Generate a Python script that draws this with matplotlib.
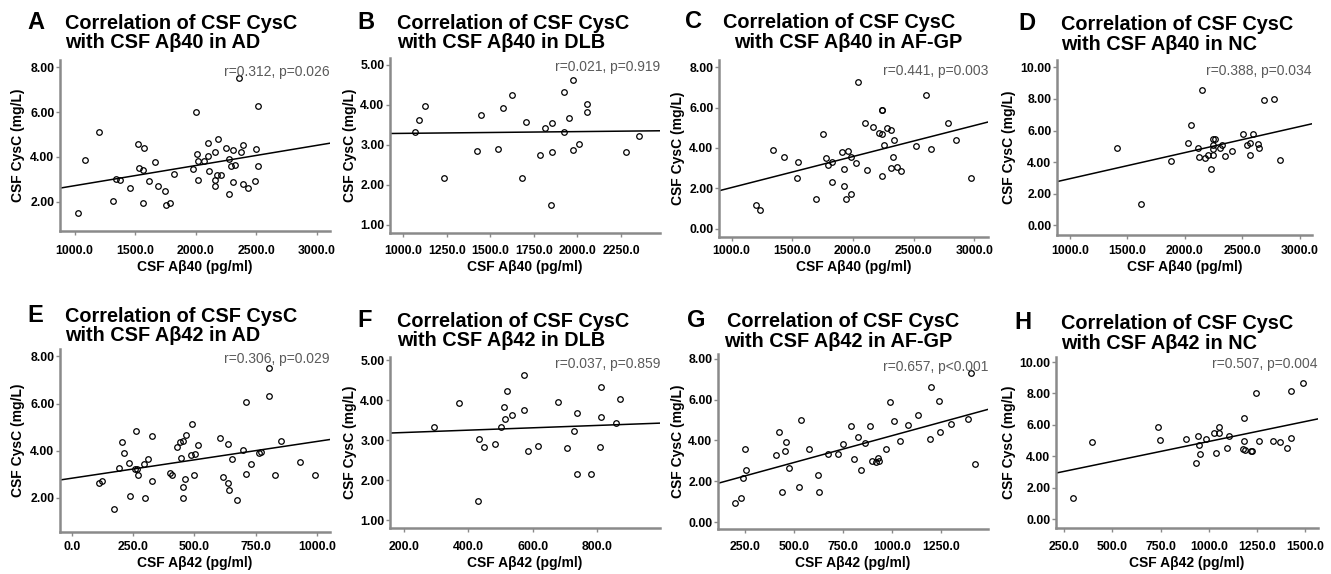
import numpy as np
import matplotlib.pyplot as plt

plt.rcParams['font.family'] = ['Liberation Sans', 'DejaVu Sans']

# values (CSF Abeta in pg/ml, CSF CysC in mg/L)
a_x = [1025, 1088, 1200, 1318, 1337, 1370, 1455, 1521, 1535, 1562, 1573, 1565, 1617, 1667, 1686,
       1749, 1757, 1784, 1820, 1974, 2004, 2009, 2015, 2020, 2067, 2097, 2097, 2111, 2155, 2185,
       2155, 2160, 2174, 2204, 2245, 2270, 2289, 2308, 2319, 2306, 2273, 2358, 2372, 2391, 2393,
       2429, 2495, 2492, 2511, 2514]
a_y = [1.50, 3.85, 5.11, 2.01, 3.03, 2.99, 2.60, 4.59, 3.51, 3.42, 4.41, 1.95, 2.91, 3.78, 2.70,
       2.46, 1.86, 1.95, 3.24, 3.46, 6.02, 4.12, 2.96, 3.82, 3.82, 4.62, 4.02, 3.39, 4.20, 4.78,
       2.96, 2.70, 3.18, 3.18, 4.39, 3.90, 3.60, 4.33, 3.66, 2.88, 2.33, 7.51, 4.23, 4.53, 2.78,
       2.60, 4.35, 2.94, 6.29, 3.61]

b_x = [1065, 1092, 1123, 1234, 1425, 1446, 1542, 1570, 1622, 1704, 1683, 1785, 1812, 1854, 1856,
       1848, 1923, 1923, 1950, 1976, 1972, 2007, 2053, 2053, 2279, 2351]
b_y = [3.33, 3.63, 3.97, 2.17, 2.84, 3.75, 2.90, 3.93, 4.24, 3.57, 2.17, 2.75, 3.43, 3.54, 2.83,
       1.49, 4.33, 3.33, 3.68, 4.63, 2.87, 3.03, 4.03, 3.83, 2.83, 3.23]

c_x = [1203, 1233, 1341, 1429, 1544, 1538, 1692, 1755, 1775, 1797, 1824, 1824, 1909, 1926, 1929,
       1942, 1956, 1981, 1984, 2027, 2044, 2099, 2165, 2118, 2214, 2236, 2238, 2242, 2253, 2236,
       2277, 2316, 2341, 2330, 2310, 2365, 2398, 2519, 2599, 2646, 2780, 2846, 2973]
c_y = [1.17, 0.93, 3.90, 3.55, 3.32, 2.53, 1.45, 4.68, 3.49, 3.14, 3.32, 2.30, 3.79, 2.96, 2.13,
       1.45, 3.85, 3.55, 1.69, 3.27, 7.26, 5.22, 5.06, 2.91, 4.76, 5.88, 5.86, 4.68, 4.15, 2.63,
       4.99, 4.91, 4.40, 3.55, 2.99, 3.06, 2.83, 4.07, 6.61, 3.95, 5.24, 4.41, 2.53]

d_x = [1406, 1621, 1877, 2031, 2057, 2115, 2124, 2150, 2176, 2199, 2231, 2245, 2245, 2245, 2242,
       2266, 2309, 2324, 2347, 2408, 2504, 2539, 2570, 2565, 2591, 2637, 2646, 2692, 2774, 2826]
d_y = [4.88, 1.33, 4.10, 5.24, 6.36, 4.90, 4.31, 8.58, 4.27, 4.48, 3.55, 4.46, 4.86, 5.07, 5.45,
       5.45, 4.90, 5.07, 4.36, 4.69, 5.79, 5.07, 5.18, 4.48, 5.81, 5.12, 4.88, 7.95, 8.03, 4.16]

e_x = [113, 122, 174, 193, 207, 215, 235, 236, 261, 257, 265, 270, 294, 313, 298, 328, 329, 401,
       411, 430, 441, 453, 446, 456, 461, 453, 467, 490, 487, 501, 497, 516, 603, 619, 637, 637,
       642, 653, 673, 698, 710, 712, 731, 763, 773, 804, 804, 829, 854, 933, 993]
e_y = [2.65, 2.73, 1.55, 3.28, 4.37, 3.89, 3.49, 2.07, 4.82, 3.21, 3.21, 2.96, 3.44, 3.65, 1.98,
       4.61, 2.73, 3.06, 2.96, 4.16, 4.37, 4.41, 3.71, 2.48, 2.80, 1.98, 4.65, 5.15, 3.81, 3.88,
       2.99, 4.24, 4.55, 2.90, 4.27, 2.65, 2.35, 3.65, 1.90, 4.05, 6.05, 3.03, 3.44, 3.89, 3.95,
       7.52, 6.33, 2.99, 4.43, 3.54, 2.97]

f_x = [294, 371, 433, 449, 430, 484, 502, 512, 514, 519, 537, 572, 574, 586, 615, 679, 708, 727,
       737, 739, 780, 809, 812, 812, 858, 873]
f_y = [3.32, 3.93, 3.03, 2.83, 1.48, 2.90, 3.32, 3.83, 3.54, 4.24, 3.63, 3.75, 4.63, 2.74, 2.85,
       3.96, 2.82, 3.23, 3.68, 2.16, 2.16, 2.83, 4.33, 3.57, 3.42, 4.03]

g_x = [199, 231, 240, 252, 255, 409, 424, 440, 452, 460, 474, 524, 537, 577, 621, 626, 674, 725,
       748, 789, 806, 825, 844, 864, 890, 896, 917, 927, 934, 968, 989, 1008, 1043, 1083, 1132,
       1196, 1201, 1242, 1245, 1300, 1387, 1404, 1423]
g_y = [0.93, 1.19, 2.16, 3.58, 2.56, 3.30, 4.42, 1.47, 3.49, 3.93, 2.64, 1.70, 5.01, 3.56, 2.29,
       1.47, 3.35, 3.35, 3.82, 4.70, 3.07, 4.16, 2.55, 3.87, 4.69, 3.00, 2.96, 3.15, 3.00, 3.58,
       5.86, 4.93, 3.97, 4.77, 5.24, 4.08, 6.63, 5.91, 4.41, 4.80, 5.05, 7.30, 2.86]

h_x = [295, 394, 736, 749, 882, 944, 948, 955, 932, 984, 1029, 1053, 1055, 1038, 1093, 1103, 1183,
       1181, 1179, 1188, 1219, 1222, 1244, 1263, 1332, 1370, 1405, 1427, 1429, 1491]
h_y = [1.33, 4.92, 5.89, 5.06, 5.13, 5.28, 4.72, 4.13, 3.58, 5.13, 5.51, 5.51, 5.85, 4.19, 4.51,
       5.28, 6.44, 4.96, 4.49, 4.39, 4.32, 4.32, 8.03, 4.96, 4.98, 4.94, 4.53, 8.14, 5.19, 8.69]

letters = ['A', 'B', 'C', 'D', 'E', 'F', 'G', 'H']
groups = ['AD', 'DLB', 'AF-GP', 'NC', 'AD', 'DLB', 'AF-GP', 'NC']
markers = ['Aβ40'] * 4 + ['Aβ42'] * 4
stats = ['r=0.312, p=0.026', 'r=0.021, p=0.919', 'r=0.441, p=0.003', 'r=0.388, p=0.034',
         'r=0.306, p=0.029', 'r=0.037, p=0.859', 'r=0.657, p<0.001', 'r=0.507, p=0.004']
xs_data = [a_x, b_x, c_x, d_x, e_x, f_x, g_x, h_x]
ys_data = [a_y, b_y, c_y, d_y, e_y, f_y, g_y, h_y]
x_ticks = [np.arange(1000, 3001, 500), np.arange(1000, 2251, 250), np.arange(1000, 3001, 500),
           np.arange(1000, 3001, 500), np.arange(0, 1001, 250), np.arange(200, 801, 200),
           np.arange(250, 1251, 250), np.arange(250, 1501, 250)]
y_ticks = [np.arange(2, 9, 2), np.arange(1, 6, 1), np.arange(0, 9, 2), np.arange(0, 11, 2),
           np.arange(2, 9, 2), np.arange(1, 6, 1), np.arange(0, 9, 2), np.arange(0, 11, 2)]

# layout in pixels: axes box (left, right, top, bottom), axis limits, label offsets
W, H = 1331, 574
boxes = [(60, 330, 60, 231), (390, 660, 58, 233), (719, 988, 60, 237), (1057, 1312, 60, 235),
         (60, 330, 349, 532), (390, 660, 357, 528), (718, 988, 354, 529), (1056, 1318, 357, 528)]
xlims = [(879, 3107), (923, 2474), (896, 3113), (887, 3108),
         (-48, 1054), (156, 996), (112, 1490), (207, 1567)]
ylims = [(0.69, 8.33), (0.80, 5.17), (-0.42, 8.36), (-0.62, 10.47),
         (0.56, 8.31), (0.81, 5.08), (-0.34, 8.23), (-0.55, 10.32)]
ylab_x = [-0.155, -0.148, -0.152, -0.188, -0.155, -0.148, -0.148, -0.179]
stat_y = [0.93, 0.95, 0.94, 0.94, 0.945, 0.96, 0.925, 0.96]
# title: letter x, line1 x, line2 x, baseline1, baseline2
titles_px = [(27, 65, 65, 29, 48), (357, 397, 397, 29, 48), (685, 723, 734, 28, 48),
             (1018, 1061, 1061, 30, 50), (27, 65, 65, 322, 341), (357, 397, 397, 327, 346),
             (687, 727, 724, 327, 347), (1014, 1061, 1061, 329, 349)]

fig = plt.figure(figsize=(W / 100, H / 100), dpi=100)
grey = '#8a8a8a'

for i in range(8):
    l, r, t, b = boxes[i]
    ax = fig.add_axes([l / W, 1 - b / H, (r - l) / W, (b - t) / H])
    x = np.array(xs_data[i], dtype=float)
    y = np.array(ys_data[i], dtype=float)

    ax.plot(x, y, 'o', mfc='none', mec='black', ms=4, mew=0.9, zorder=3)
    # least squares fit line across the whole axis
    k, c = np.polyfit(x, y, 1)
    xl = np.array(xlims[i], dtype=float)
    ax.plot(xl, k * xl + c, color='black', lw=1.1, zorder=2)

    ax.set_xlim(xlims[i])
    ax.set_ylim(ylims[i])
    for s in ['top', 'right']:
        ax.spines[s].set_visible(False)
    for s in ['left', 'bottom']:
        ax.spines[s].set_color(grey)
        ax.spines[s].set_linewidth(1.8)

    # x tick labels sit at the same height in each row
    label_top = 245 if i < 4 else 541
    pad = max(label_top - b - 4, 1) * 0.72
    ax.set_xticks(x_ticks[i], labels=['%.1f' % v for v in x_ticks[i]],
                  fontsize=8.8, fontweight='bold')
    ax.set_yticks(y_ticks[i], labels=['%.2f' % v for v in y_ticks[i]],
                  fontsize=8.8, fontweight='bold')
    ax.tick_params(axis='x', direction='out', length=3, width=1, color=grey, pad=pad)
    ax.tick_params(axis='y', direction='out', length=3, width=1, color=grey, pad=1)

    ax.set_xlabel('CSF %s (pg/ml)' % markers[i], fontsize=10, fontweight='bold', va='center')
    xlab_c = 267 if i < 4 else 563
    ax.xaxis.set_label_coords(0.5, (b - xlab_c) / (b - t))
    ax.set_ylabel('CSF CysC (mg/L)', fontsize=10, fontweight='bold', va='center')
    ax.yaxis.set_label_coords(ylab_x[i], 0.5)

    ax.text(1.0, stat_y[i], stats[i], transform=ax.transAxes, ha='right', va='center',
            fontsize=10, color='#5a5a5a')

    lx, t1x, t2x, bl1, bl2 = titles_px[i]
    fig.text(lx / W, 1 - bl1 / H, letters[i], fontsize=17, fontweight='bold', va='baseline')
    fig.text(t1x / W, 1 - bl1 / H, 'Correlation of CSF CysC', fontsize=14.3,
             fontweight='bold', va='baseline')
    fig.text(t2x / W, 1 - bl2 / H, 'with CSF %s in %s' % (markers[i], groups[i]),
             fontsize=14.3, fontweight='bold', va='baseline')

fig.savefig('out.png', dpi=100)
